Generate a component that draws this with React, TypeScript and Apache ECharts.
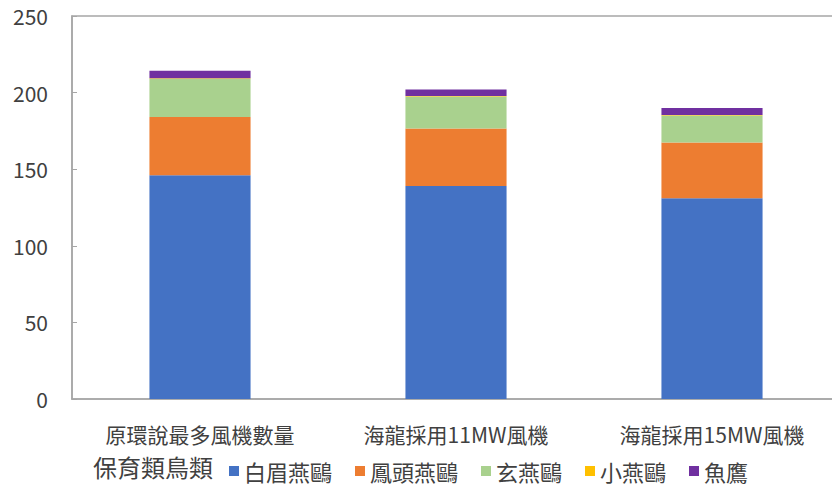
import React, { useEffect, useRef } from "react";
import * as echarts from "echarts";

const categories = ["原環說最多風機數量", "海龍採用11MW風機", "海龍採用15MW風機"];
const yTicks = [0, 50, 100, 150, 200, 250];
const seriesNames = ["白眉燕鷗", "鳳頭燕鷗", "玄燕鷗", "小燕鷗", "魚鷹"];
const baiMei = [146, 139, 131];
const fengTou = [38, 37.5, 36.5];
const xuan = [25, 21, 17.5];
const xiao = [0.3, 0.3, 0.3];
const yuYing = [5, 4.2, 4.7];
const colors = ["#4472C4", "#ED7D31", "#A9D18E", "#FFC000", "#7030A0"];
const legendTitle = "保育類鳥類";

const FONT = "'Noto Sans CJK TC', 'Noto Sans CJK SC', sans-serif";

export default function App() {
  const ref = useRef<HTMLDivElement>(null);
  useEffect(() => {
    document.body.style.margin = "0";
    const chart = echarts.init(ref.current!, null, { renderer: "svg" });
    const data = [baiMei, fengTou, xuan, xiao, yuYing];
    chart.setOption({
      animation: false,
      backgroundColor: "#ffffff",
      textStyle: { fontFamily: FONT },
      grid: {
        left: 72,
        right: -8,
        top: 16,
        bottom: 93,
        show: true,
        borderColor: "#a6a6a6",
        borderWidth: 1.5,
        outerBoundsMode: "none",
      },
      legend: {
        data: seriesNames,
        left: 224,
        top: 455,
        itemWidth: 10,
        itemHeight: 10,
        itemGap: 23,
        icon: "rect",
        textStyle: { fontSize: 22, color: "#404040", fontFamily: FONT, padding: [0, 0, 0, 0] },
      },
      graphic: [
        {
          type: "text",
          left: 93,
          top: 454,
          style: { text: legendTitle, fontSize: 24, fill: "#404040", fontFamily: FONT },
        },
      ],
      xAxis: {
        type: "category",
        data: categories,
        axisLine: { show: true, lineStyle: { color: "#a6a6a6", width: 1.5 } },
        axisTick: { show: false },
        axisLabel: { fontSize: 21, color: "#404040", margin: 24, fontFamily: FONT },
      },
      yAxis: {
        type: "value",
        min: yTicks[0],
        max: yTicks[yTicks.length - 1],
        interval: 50,
        axisLine: { show: true, lineStyle: { color: "#a6a6a6", width: 1.5 } },
        axisTick: { show: true, inside: true, length: 5, lineStyle: { color: "#a6a6a6" } },
        splitLine: { show: false },
        axisLabel: { fontSize: 21, color: "#404040", margin: 24, fontFamily: FONT },
      },
      series: seriesNames.map((name, i) => ({
        name,
        type: "bar",
        stack: "total",
        barWidth: "39.5%",
        data: data[i],
        itemStyle: { color: colors[i] },
      })),
    });
    return () => chart.dispose();
  }, []);
  return <div ref={ref} style={{ width: 832, height: 492 }} />;
}
